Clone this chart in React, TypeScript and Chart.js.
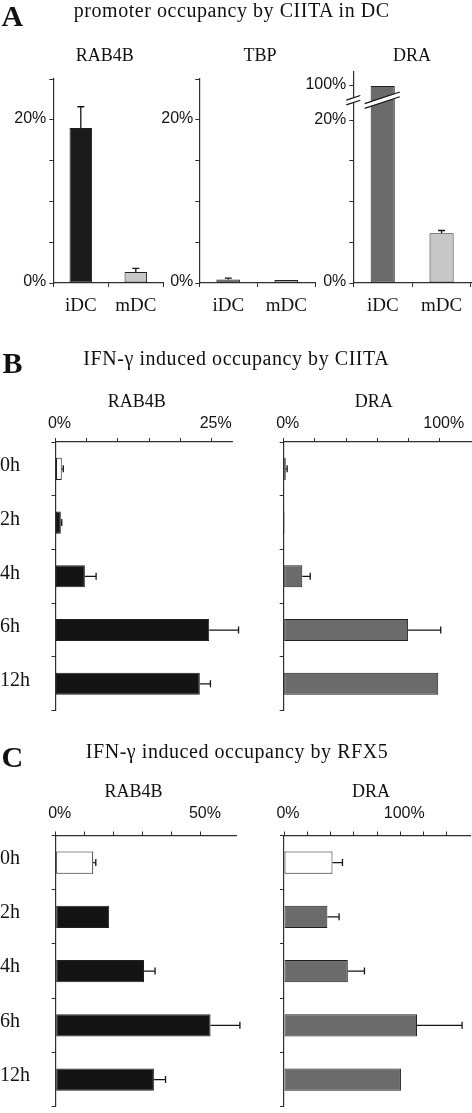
import React, { useEffect, useRef } from 'react';
import { Chart, registerables } from 'chart.js';

Chart.register(...registerables);

const SANS = '"Liberation Sans", Arial, Helvetica, sans-serif';
const SERIF = '"Liberation Serif", "Times New Roman", serif';
const INK = '#141414';
const AXIS = '#2e2e2e';
const EDGE = '#202020';
const CAP = 3.5;

// ---------- Panel A: promoter occupancy by CIITA in DC ----------
const dcCells = ['iDC', 'mDC'];
const dcRab4b = [19.0, 1.35];
const dcRab4bErr = [2.6, 0.45];
const dcTbp = [0.42, 0.37];
const dcTbpErr = [0.18, 0];
const dcDra = [100, 6.1];
const dcDraErr = [0, 0.35];
const dcTicks = [0, 5, 10, 15, 20, 25];
const dcLabelled = [0, 20];
const dcDraTicks = [0, 5, 10, 15, 20, 100];
const dcDraLabelled = [0, 20, 100];
const dcRab4bColors = ['#1b1b1b', '#c8c8c8'];
const dcTbpColors = ['#555555', '#c8c8c8'];
const dcDraColors = ['#6b6b6b', '#c8c8c8'];

// ---------- Panels B and C: IFN-γ time course ----------
const hours = ['0h', '2h', '4h', '6h', '12h'];
const ciitaRab4b = [1.0, 0.85, 4.7, 24.6, 23.1];
const ciitaRab4bErr = [0.25, 0.15, 1.8, 4.7, 1.7];
const ciitaDra = [1.3, 0.6, 11.9, 79.7, 99.0];
const ciitaDraErr = [0.9, 0, 5.1, 20.9, 0];
const rfx5Rab4b = [12.9, 18.4, 30.4, 53.3, 33.8];
const rfx5Rab4bErr = [0.9, 0, 3.8, 10.1, 4.0];
const rfx5Dra = [41.7, 37.3, 54.9, 114.4, 100.6];
const rfx5DraErr = [8.6, 10.1, 14.3, 38.8, 0];

const ciitaRab4bTicks = [0, 5, 10, 15, 20, 25];
const ciitaRab4bLabelled = [0, 25];
const ciitaDraTicks = [0, 20, 40, 60, 80, 100];
const ciitaDraLabelled = [0, 100];
const rfx5Rab4bTicks = [0, 10, 20, 30, 40, 50];
const rfx5Rab4bLabelled = [0, 50];
const rfx5DraTicks = [0, 20, 40, 60, 80, 100, 120, 140];
const rfx5DraLabelled = [0, 100];

const rab4bTimeColors = ['#ffffff', '#141414', '#141414', '#141414', '#141414'];
const draTimeColors = ['#ffffff', '#6b6b6b', '#6b6b6b', '#6b6b6b', '#6b6b6b'];

// broken axis: 0-20% linear, then compressed up to 100%
function squeeze(v: number): number {
  if (v <= 20) return v;
  if (v >= 100) return 24.2 + (v - 100) * 0.02;
  return 20 + (v - 20) * (4.2 / 80);
}

type Spec = {
  key: string;
  box: number[]; // left, top, width, height
  area: number[]; // left, top, right, bottom
  horizontal: boolean;
  labels: string[];
  values: number[];
  errors: number[];
  colors: string[];
  max: number;
  ticks: number[];
  labelled: number[];
  map?: (v: number) => number;
  showCats: boolean;
  valuePad: number;
  valueLabelOffset: number;
  catPad: number;
  catLabelOffset: number;
  catSize: number;
  breakAt?: number;
};

const SPECS: Spec[] = [
  {
    key: 'a1', box: [0, 60, 168, 265], area: [53.3, 79, 163.3, 283], horizontal: false,
    labels: dcCells, values: dcRab4b, errors: dcRab4bErr, colors: dcRab4bColors,
    max: 25, ticks: dcTicks, labelled: dcLabelled, showCats: true,
    valuePad: 3, valueLabelOffset: -1, catPad: 8, catLabelOffset: 0, catSize: 19,
  },
  {
    key: 'a2', box: [156, 60, 164, 265], area: [199.3, 79, 315.3, 283], horizontal: false,
    labels: dcCells, values: dcTbp, errors: dcTbpErr, colors: dcTbpColors,
    max: 25, ticks: dcTicks, labelled: dcLabelled, showCats: true,
    valuePad: 2, valueLabelOffset: -1, catPad: 8, catLabelOffset: 0, catSize: 19,
  },
  {
    key: 'a3', box: [300, 52, 172, 273], area: [353.3, 71.7, 471, 283], horizontal: false,
    labels: dcCells, values: dcDra, errors: dcDraErr, colors: dcDraColors,
    max: 25.95, ticks: dcDraTicks, labelled: dcDraLabelled, map: squeeze, showCats: true,
    valuePad: 3, valueLabelOffset: -1, catPad: 8, catLabelOffset: 0, catSize: 19, breakAt: 22.45,
  },
  {
    key: 'b1', box: [0, 405, 246, 312], area: [55.5, 442, 232.3, 710.7], horizontal: true,
    labels: hours, values: ciitaRab4b, errors: ciitaRab4bErr, colors: rab4bTimeColors,
    max: 28.3, ticks: ciitaRab4bTicks, labelled: ciitaRab4bLabelled, showCats: true,
    valuePad: 5, valueLabelOffset: 4, catPad: 0, catLabelOffset: -3, catSize: 20,
  },
  {
    key: 'b2', box: [250, 405, 222, 312], area: [283.7, 442, 471, 710.7], horizontal: true,
    labels: hours, values: ciitaDra, errors: ciitaDraErr, colors: draTimeColors,
    max: 120, ticks: ciitaDraTicks, labelled: ciitaDraLabelled, showCats: false,
    valuePad: 5, valueLabelOffset: 4, catPad: 0, catLabelOffset: 0, catSize: 20,
  },
  {
    key: 'c1', box: [0, 795, 246, 317], area: [55.7, 835.5, 236.7, 1106.7], horizontal: true,
    labels: hours, values: rfx5Rab4b, errors: rfx5Rab4bErr, colors: rab4bTimeColors,
    max: 62.3, ticks: rfx5Rab4bTicks, labelled: rfx5Rab4bLabelled, showCats: true,
    valuePad: 8, valueLabelOffset: 4, catPad: 0, catLabelOffset: -4, catSize: 20,
  },
  {
    key: 'c2', box: [250, 795, 222, 317], area: [284, 835.5, 470, 1106.7], horizontal: true,
    labels: hours, values: rfx5Dra, errors: rfx5DraErr, colors: draTimeColors,
    max: 160, ticks: rfx5DraTicks, labelled: rfx5DraLabelled, showCats: false,
    valuePad: 8, valueLabelOffset: 4, catPad: 0, catLabelOffset: 0, catSize: 20,
  },
];

function errorBarPlugin(spec: Spec): any {
  const map = spec.map ?? ((v: number) => v);
  return {
    id: 'errorBars',
    afterDatasetsDraw(chart: any) {
      const ctx = chart.ctx;
      const meta = chart.getDatasetMeta(0);
      const vs = spec.horizontal ? chart.scales.x : chart.scales.y;
      ctx.save();
      ctx.strokeStyle = INK;
      ctx.lineWidth = 1.3;
      spec.values.forEach((v, i) => {
        const e = spec.errors[i];
        if (!e) return;
        const el = meta.data[i];
        const a = vs.getPixelForValue(map(v));
        const b = vs.getPixelForValue(map(v + e));
        ctx.beginPath();
        if (spec.horizontal) {
          const y = el.y;
          ctx.moveTo(a, y);
          ctx.lineTo(b, y);
          ctx.moveTo(b, y - CAP);
          ctx.lineTo(b, y + CAP);
        } else {
          const x = el.x;
          ctx.moveTo(x, a);
          ctx.lineTo(x, b);
          ctx.moveTo(x - CAP, b);
          ctx.lineTo(x + CAP, b);
        }
        ctx.stroke();
      });
      ctx.restore();
    },
  };
}

function breakPlugin(spec: Spec): any {
  return {
    id: 'axisBreak',
    afterDraw(chart: any) {
      if (spec.breakAt === undefined) return;
      const ctx = chart.ctx;
      const yc = chart.scales.y.getPixelForValue(spec.breakAt);
      const axisX = chart.chartArea.left;
      const bar = chart.getDatasetMeta(0).data[0];
      const half = bar.width / 2;
      const segs = [
        [axisX - 7, axisX + 7],
        [bar.x - half - 6, bar.x + half + 5],
      ];
      const slope = 0.33;
      const gap = 2.4;
      segs.forEach(([x0, x1]) => {
        const xc = (x0 + x1) / 2;
        const yAt = (x: number, off: number) => yc + off - slope * (x - xc);
        ctx.save();
        ctx.fillStyle = '#ffffff';
        ctx.beginPath();
        ctx.moveTo(x0, yAt(x0, -gap));
        ctx.lineTo(x1, yAt(x1, -gap));
        ctx.lineTo(x1, yAt(x1, gap));
        ctx.lineTo(x0, yAt(x0, gap));
        ctx.closePath();
        ctx.fill();
        ctx.strokeStyle = INK;
        ctx.lineWidth = 1.2;
        ctx.beginPath();
        ctx.moveTo(x0, yAt(x0, -gap));
        ctx.lineTo(x1, yAt(x1, -gap));
        ctx.moveTo(x0, yAt(x0, gap));
        ctx.lineTo(x1, yAt(x1, gap));
        ctx.stroke();
        ctx.restore();
      });
    },
  };
}

function buildConfig(spec: Spec): any {
  const map = spec.map ?? ((v: number) => v);
  const [bl, bt, bw, bh] = spec.box;
  const [al, at, ar, ab] = spec.area;
  const zeroPad = (sc: any) => {
    sc.paddingLeft = 0;
    sc.paddingRight = 0;
    sc.paddingTop = 0;
    sc.paddingBottom = 0;
  };
  const labelFor = (v: number) => {
    const idx = spec.ticks.findIndex((t) => Math.abs(map(t) - v) < 1e-6);
    if (idx < 0) return '';
    const raw = spec.ticks[idx];
    return spec.labelled.includes(raw) ? raw + '%' : '';
  };
  const gridOpts = {
    display: true,
    drawOnChartArea: false,
    drawTicks: true,
    tickLength: 4,
    color: AXIS,
    lineWidth: 1,
  };
  const valueScale: any = {
    type: 'linear',
    position: spec.horizontal ? 'top' : 'left',
    min: 0,
    max: spec.max,
    afterBuildTicks: (sc: any) => {
      sc.ticks = spec.ticks.map((t) => ({ value: map(t) }));
    },
    afterFit: (sc: any) => {
      if (spec.horizontal) sc.height = at - bt;
      else sc.width = al - bl;
      zeroPad(sc);
    },
    grid: gridOpts,
    border: { display: true, color: AXIS, width: 1.2 },
    ticks: {
      autoSkip: false,
      maxRotation: 0,
      minRotation: 0,
      padding: spec.valuePad,
      labelOffset: spec.valueLabelOffset,
      color: INK,
      font: { family: SANS, size: 16 },
      callback: (v: any) => labelFor(Number(v)),
    },
  };
  const catScale: any = {
    type: 'category',
    position: spec.horizontal ? 'left' : 'bottom',
    offset: true,
    afterFit: (sc: any) => {
      if (spec.horizontal) sc.width = al - bl;
      else sc.height = bt + bh - ab;
      zeroPad(sc);
    },
    grid: { ...gridOpts, offset: true },
    border: { display: true, color: AXIS, width: 1.2 },
    ticks: {
      display: spec.showCats,
      autoSkip: false,
      maxRotation: 0,
      minRotation: 0,
      padding: spec.catPad,
      labelOffset: spec.catLabelOffset,
      crossAlign: spec.horizontal ? 'far' : 'near',
      color: INK,
      font: { family: SERIF, size: spec.catSize },
    },
  };
  const padding = spec.horizontal
    ? { left: 0, top: 0, right: bl + bw - ar, bottom: bt + bh - ab }
    : { left: 0, top: at - bt, right: bl + bw - ar, bottom: 0 };

  return {
    type: 'bar',
    data: {
      labels: spec.labels,
      datasets: [
        {
          data: spec.values.map(map),
          backgroundColor: spec.colors,
          borderColor: EDGE,
          borderWidth: 1,
          borderSkipped: false,
          barPercentage: 0.82,
          categoryPercentage: 0.5,
        },
      ],
    },
    options: {
      indexAxis: spec.horizontal ? 'y' : 'x',
      responsive: false,
      maintainAspectRatio: false,
      animation: false,
      events: [],
      layout: { padding },
      plugins: {
        legend: { display: false },
        tooltip: { enabled: false },
        title: { display: false },
      },
      scales: spec.horizontal ? { x: valueScale, y: catScale } : { x: catScale, y: valueScale },
    },
    plugins: [errorBarPlugin(spec), breakPlugin(spec)],
  };
}

const TEXTS = [
  { t: 'A', x: 1.5, y: 26, size: 30, bold: true, anchor: 'start', ls: 0 },
  { t: 'promoter occupancy by CIITA in DC', x: 231.7, y: 17, size: 20, bold: false, anchor: 'middle', ls: 0.55 },
  { t: 'RAB4B', x: 104.8, y: 60.7, size: 18, bold: false, anchor: 'middle', ls: 0 },
  { t: 'TBP', x: 260, y: 60.7, size: 18, bold: false, anchor: 'middle', ls: 0 },
  { t: 'DRA', x: 412, y: 60.7, size: 18, bold: false, anchor: 'middle', ls: 0 },
  { t: 'B', x: 2.5, y: 373, size: 30, bold: true, anchor: 'start', ls: 0 },
  { t: 'IFN-γ induced occupancy by CIITA', x: 236.3, y: 365, size: 20, bold: false, anchor: 'middle', ls: 0.55 },
  { t: 'RAB4B', x: 136.7, y: 406.7, size: 18, bold: false, anchor: 'middle', ls: 0 },
  { t: 'DRA', x: 373.8, y: 406.7, size: 18, bold: false, anchor: 'middle', ls: 0 },
  { t: 'C', x: 1.5, y: 767, size: 30, bold: true, anchor: 'start', ls: 0 },
  { t: 'IFN-γ induced occupancy by RFX5', x: 237, y: 758.3, size: 20, bold: false, anchor: 'middle', ls: 0.55 },
  { t: 'RAB4B', x: 133.5, y: 797.3, size: 18, bold: false, anchor: 'middle', ls: 0 },
  { t: 'DRA', x: 371, y: 797.3, size: 18, bold: false, anchor: 'middle', ls: 0 },
];

export default function App() {
  const refs = useRef<(HTMLCanvasElement | null)[]>([]);

  useEffect(() => {
    const charts = SPECS.map((s, i) => new Chart(refs.current[i] as HTMLCanvasElement, buildConfig(s)));
    return () => {
      charts.forEach((c) => c.destroy());
    };
  }, []);

  return (
    <div
      style={{
        position: 'absolute',
        left: 0,
        top: 0,
        width: 472,
        height: 1113,
        overflow: 'hidden',
        background: '#ffffff',
      }}
    >
      {SPECS.map((s, i) => (
        <canvas
          key={s.key}
          ref={(el) => {
            refs.current[i] = el;
          }}
          width={s.box[2]}
          height={s.box[3]}
          style={{
            position: 'absolute',
            left: s.box[0],
            top: s.box[1],
            width: s.box[2],
            height: s.box[3],
          }}
        />
      ))}
      <svg
        width={472}
        height={1113}
        style={{ position: 'absolute', left: 0, top: 0, pointerEvents: 'none' }}
      >
        {TEXTS.map((d, i) => (
          <text
            key={i}
            x={d.x}
            y={d.y}
            fontFamily={SERIF}
            fontSize={d.size}
            fontWeight={d.bold ? 'bold' : 'normal'}
            textAnchor={d.anchor as any}
            letterSpacing={d.ls}
            fill="#111111"
          >
            {d.t}
          </text>
        ))}
      </svg>
    </div>
  );
}
